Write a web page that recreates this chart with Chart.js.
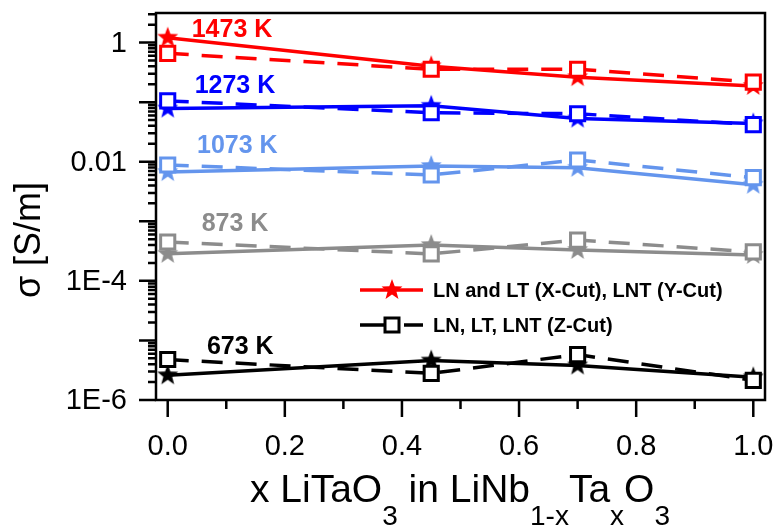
<!DOCTYPE html>
<html>
<head>
<meta charset="utf-8">
<script src="https://cdn.jsdelivr.net/npm/chart.js@4"></script>
<style>
html, body { margin: 0; padding: 0; background: #fff; }
</style>
</head>
<body>
<canvas id="chart" width="778" height="527"></canvas>
<script>
// x = mole fraction of LiTaO3
const xFraction = [0, 0.45, 0.7, 1.0]
const temperatures = ['1473 K', '1273 K', '1073 K', '873 K', '673 K']
const colors = ['#ff0000', '#0000ff', '#6495ed', '#8c8c8c', '#000000']

// stars, solid: LN and LT (X-Cut), LNT (Y-Cut)
const xy1473 = [1.21, 0.40, 0.263, 0.187]
const xy1273 = [0.078, 0.087, 0.053, 0.044]
const xy1073 = [0.0067, 0.0085, 0.0079, 0.0041]
const xy873 = [2.84e-4, 4.0e-4, 3.3e-4, 2.73e-4]
const xy673 = [2.6e-6, 4.6e-6, 3.8e-6, 2.4e-6]

// squares, dashed: LN, LT, LNT (Z-Cut)
const z1473 = [0.66, 0.357, 0.357, 0.217]
const z1273 = [0.105, 0.0665, 0.064, 0.042]
const z1073 = [0.0088, 0.0060, 0.0107, 0.0054]
const z873 = [4.49e-4, 2.84e-4, 4.84e-4, 3.06e-4]
const z673 = [4.78e-6, 2.8e-6, 5.78e-6, 2.14e-6]

const yTickValues = [1e-6, 1e-4, 1e-2, 1]
const yTickLabels = ['1E-6', '1E-4', '0.01', '1']
const xTickValues = [0, 0.2, 0.4, 0.6, 0.8, 1.0]
const xTickLabels = ['0.0', '0.2', '0.4', '0.6', '0.8', '1.0']

// where the temperature labels sit (data coords)
const labelAtX = [0.041, 0.046, 0.05, 0.058, 0.067]
const labelAtY = [1.64, 0.187, 0.018, 8.9e-4, 7.6e-6]

const xySeries = [xy1473, xy1273, xy1073, xy873, xy673]
const zSeries = [z1473, z1273, z1073, z873, z673]

const FONT = '"Liberation Sans", Arial, sans-serif'
const Y_MAX = 3.14

function makeStar(color, r){
    const c = document.createElement('canvas')
    c.width = c.height = Math.ceil(r * 2 + 2)
    const ctx = c.getContext('2d')
    const cx = c.width / 2, cy = c.height / 2
    ctx.beginPath()
    for(let i = 0; i < 10; i++){
        const rad = i % 2 === 0 ? r : r * 0.42
        const a = -Math.PI / 2 + i * Math.PI / 5
        ctx.lineTo(cx + rad * Math.cos(a), cy + rad * Math.sin(a))
    }
    ctx.closePath()
    ctx.fillStyle = color
    ctx.fill()
    return c
}

const stars = colors.map(c => makeStar(c, 11))

let datasets = []
for(let i = 0; i < temperatures.length; i++){
    datasets.push({
        label: temperatures[i] + ' X/Y',
        data: xFraction.map((x, j) => ({x: x, y: xySeries[i][j]})),
        borderColor: colors[i],
        borderWidth: 3.5,
        pointStyle: stars[i],
        order: 2
    })
    datasets.push({
        label: temperatures[i] + ' Z',
        data: xFraction.map((x, j) => ({x: x, y: zSeries[i][j]})),
        borderColor: colors[i],
        borderWidth: 3.5,
        borderDash: [21, 13],
        pointStyle: 'rect',
        pointRadius: 10,
        pointBackgroundColor: '#ffffff',
        pointBorderColor: colors[i],
        pointBorderWidth: 3,
        order: 1
    })
}

const extras = {
    id: 'extras',
    afterDraw(chart){
        const ctx = chart.ctx
        const a = chart.chartArea
        const xs = chart.scales.x
        const ys = chart.scales.y
        ctx.save()
        ctx.strokeStyle = '#000'
        ctx.lineWidth = 2.5
        ctx.strokeRect(a.left, a.top, a.right - a.left, a.bottom - a.top)

        // y ticks (outside)
        ctx.beginPath()
        for(let e = -6; e <= 0; e++){
            for(let k = 1; k <= 9; k++){
                const v = k * Math.pow(10, e)
                if(v > Y_MAX) continue
                const y = ys.getPixelForValue(v)
                const len = k === 1 ? 17 : 8
                ctx.moveTo(a.left, y)
                ctx.lineTo(a.left - len, y)
            }
        }
        // x ticks
        for(let i = 0; i <= 10; i++){
            const px = xs.getPixelForValue(i / 10)
            const len = i % 2 === 0 ? 17 : 9
            ctx.moveTo(px, a.bottom)
            ctx.lineTo(px, a.bottom + len)
        }
        ctx.stroke()

        // tick labels
        ctx.fillStyle = '#000'
        ctx.font = '29px ' + FONT
        ctx.textAlign = 'right'
        ctx.textBaseline = 'middle'
        yTickValues.forEach((v, i) => ctx.fillText(yTickLabels[i], a.left - 29, ys.getPixelForValue(v) + 1))
        ctx.textAlign = 'center'
        ctx.textBaseline = 'alphabetic'
        xTickValues.forEach((v, i) => ctx.fillText(xTickLabels[i], xs.getPixelForValue(v), 455))

        // temperature labels
        ctx.font = 'bold 25px ' + FONT
        ctx.textAlign = 'left'
        ctx.textBaseline = 'middle'
        temperatures.forEach((t, i) => {
            ctx.fillStyle = colors[i]
            ctx.fillText(t, xs.getPixelForValue(labelAtX[i]), ys.getPixelForValue(labelAtY[i]))
        })

        // legend
        ctx.lineWidth = 3.5
        ctx.strokeStyle = '#ff0000'
        ctx.beginPath()
        ctx.moveTo(360, 290); ctx.lineTo(423, 290)
        ctx.stroke()
        ctx.drawImage(stars[0], 392 - stars[0].width / 2, 290 - stars[0].height / 2)
        ctx.strokeStyle = '#000'
        ctx.beginPath()
        ctx.moveTo(360, 325); ctx.lineTo(386, 325)
        ctx.moveTo(404, 325); ctx.lineTo(423, 325)
        ctx.stroke()
        ctx.lineWidth = 3
        ctx.fillStyle = '#fff'
        ctx.fillRect(385, 318, 14, 14)
        ctx.strokeRect(385, 318, 14, 14)
        ctx.fillStyle = '#000'
        ctx.font = 'bold 20px ' + FONT
        ctx.fillText('LN and LT (X-Cut), LNT (Y-Cut)', 433, 291)
        ctx.fillText('LN, LT, LNT (Z-Cut)', 433, 326)

        // y title
        ctx.save()
        ctx.translate(30, 240)
        ctx.rotate(-Math.PI / 2)
        ctx.textAlign = 'center'
        ctx.font = '36px ' + FONT
        ctx.fillText('σ [S/m]', 0, 0)
        ctx.restore()

        // x title with subscripts
        const parts = [['x LiTaO', 0], ['3', 1], [' in LiNb', 0], ['1-x', 1], ['Ta', 0], ['x', 1], ['O', 0], ['3', 1]]
        const big = '39px ' + FONT
        const small = '28px ' + FONT
        let total = 0
        parts.forEach(p => { ctx.font = p[1] ? small : big; total += ctx.measureText(p[0]).width })
        let x = 460 - total / 2
        ctx.textAlign = 'left'
        ctx.textBaseline = 'alphabetic'
        parts.forEach(p => {
            ctx.font = p[1] ? small : big
            ctx.fillText(p[0], x, p[1] ? 525 : 502)
            x += ctx.measureText(p[0]).width
        })
        ctx.restore()
    }
}

new Chart(document.getElementById('chart'), {
    type: 'line',
    data: { datasets: datasets },
    options: {
        responsive: false,
        animation: false,
        devicePixelRatio: 1,
        layout: { padding: { top: 8, right: 10, left: 0, bottom: 0 } },
        plugins: { legend: { display: false }, tooltip: { enabled: false } },
        scales: {
            x: {
                type: 'linear',
                min: -0.02,
                max: 1.02,
                grid: { display: false, drawTicks: false },
                border: { display: false },
                ticks: { display: false },
                afterFit: s => { s.height = 127 }
            },
            y: {
                type: 'logarithmic',
                min: 1e-6,
                max: Y_MAX,
                grid: { display: false, drawTicks: false },
                border: { display: false },
                ticks: { display: false },
                afterFit: s => { s.width = 156 }
            }
        }
    },
    plugins: [extras]
})
</script>
</body>
</html>
